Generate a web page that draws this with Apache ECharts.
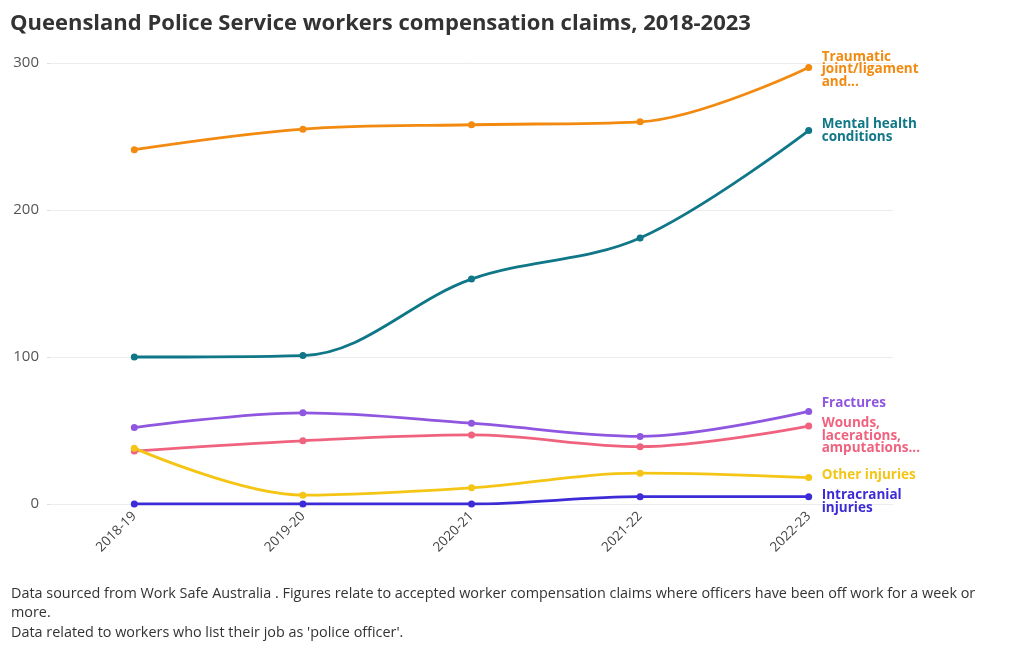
<!DOCTYPE html>
<html><head><meta charset="utf-8">
<script src="https://cdn.jsdelivr.net/npm/echarts@6/dist/echarts.min.js"></script>
<style>html,body{margin:0;padding:0;background:#fff}#c{width:1020px;height:650px}</style>
</head><body><div id="c"></div>
<script>
const categories = ['2018-19','2019-20','2020-21','2021-22','2022-23'];
const traumatic = [241, 255, 258, 260, 297];
const mental = [100, 101, 153, 181, 254];
const fractures = [52, 62, 55, 46, 63];
const wounds = [36, 43, 47, 39, 53];
const other = [38, 6, 11, 21, 18];
const intracranial = [0, 0, 0, 5, 5];
const yTicks = [0, 100, 200, 300];

const seriesDefs = [
  {name:'Traumatic joint/ligament and...', label:'Traumatic\njoint/ligament\nand...', data:traumatic, color:'#f28a10', dy:2},
  {name:'Mental health conditions', label:'Mental health\nconditions', data:mental, color:'#0f7787', dy:0},
  {name:'Fractures', label:'Fractures', data:fractures, color:'#8f56e0', dy:-8},
  {name:'Wounds, lacerations, amputations...', label:'Wounds,\nlacerations,\namputations...', data:wounds, color:'#f0637f', dy:10},
  {name:'Other injuries', label:'Other injuries', data:other, color:'#f5c515', dy:-2},
  {name:'Intracranial injuries', label:'Intracranial\ninjuries', data:intracranial, color:'#3c2bd6', dy:5}
];

const chart = echarts.init(document.getElementById('c'));
chart.setOption({
  animation:false,
  textStyle:{fontFamily:'"Open Sans", sans-serif'},
  title:{text:'Queensland Police Service workers compensation claims, 2018-2023', left:5, top:8,
    textStyle:{fontFamily:'"Open Sans", sans-serif', fontSize:22, fontWeight:'bold', color:'#333'}},
  grid:{left:50, right:127, top:63, bottom:146},
  xAxis:{type:'category', data:categories, boundaryGap:true,
    axisLine:{show:false}, axisTick:{show:false},
    axisLabel:{rotate:45, fontSize:13.5, color:'#444', margin:10}},
  yAxis:{type:'value', min:0, max:300, interval:100,
    axisLine:{show:false}, axisTick:{show:true, length:3, lineStyle:{color:'#ddd'}},
    splitLine:{lineStyle:{color:'#ececec'}},
    axisLabel:{fontSize:15, color:'#555', margin:11, formatter:v=>yTicks.includes(v)?String(v):''}},
  series: seriesDefs.map(s=>({
    name:s.name, type:'line', data:s.data, smooth:0.35,
    symbol:'circle', symbolSize:7,
    lineStyle:{width:2.8, color:s.color}, itemStyle:{color:s.color},
    endLabel:{show:true, formatter:()=>s.label, color:s.color, fontSize:13.5, fontWeight:'bold',
      lineHeight:12.5, distance:13, offset:[0, s.dy]}
  })),
  graphic:[
    {type:'text', left:11, top:584, style:{text:'Data sourced from Work Safe Australia . Figures relate to accepted worker compensation claims where officers have been off work for a week or\nmore.\nData related to workers who list their job as \'police officer\'.',
      fontSize:14.4, lineHeight:19.5, fill:'#333', fontFamily:'"Open Sans", sans-serif'}}
  ]
});
</script></body></html>
